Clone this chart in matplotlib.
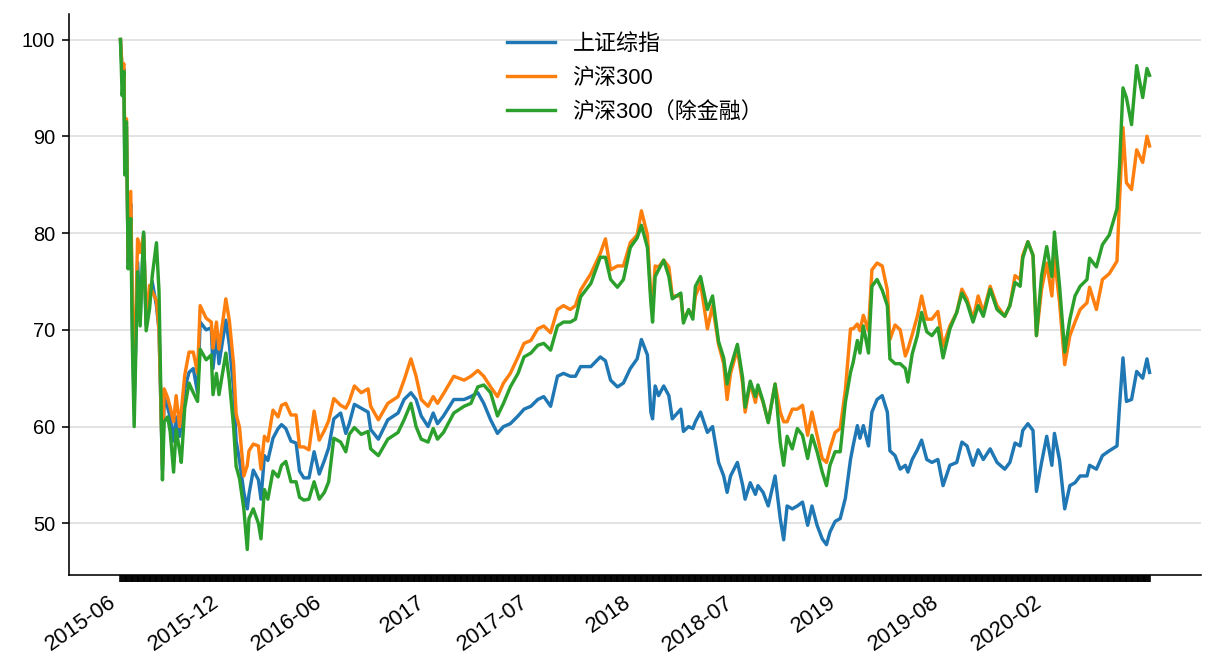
import numpy as np
import matplotlib
matplotlib.use("Agg")
import matplotlib.pyplot as plt

plt.rcParams['font.family'] = ['Liberation Sans', 'Noto Sans CJK SC', 'DejaVu Sans']
plt.rcParams['axes.unicode_minus'] = False

# trading-day position (0 = 2015-06 start) of each value
days = [0, 2, 4, 5, 7, 9, 12, 14, 16, 20, 23, 27, 30, 34, 37, 42, 45, 49, 51, 55,
        58, 62, 65, 69, 71, 75, 80, 85, 90, 93, 100, 106, 108, 112, 115, 123, 127, 132, 135, 139,
        144, 148, 150, 155, 161, 164, 168, 172, 178, 184, 188, 193, 199, 205, 209, 214, 220, 226, 232, 238,
        243, 249, 257, 263, 267, 273, 281, 289, 292, 301, 312, 324, 331, 339, 345, 351, 359, 365, 370, 377,
        389, 401, 409, 417, 424, 432, 440, 447, 455, 464, 471, 479, 487, 494, 502, 510, 517, 525, 531, 537,
        549, 560, 566, 572, 580, 587, 595, 603, 608, 615, 619, 621, 624, 628, 634, 640, 644, 654, 657, 663,
        668, 671, 677, 685, 691, 698, 704, 708, 712, 720, 726, 729, 735, 741, 744, 750, 756, 764, 770, 774,
        778, 784, 790, 796, 802, 807, 813, 819, 824, 828, 834, 840, 846, 852, 855, 860, 863, 867, 873, 877,
        883, 889, 895, 898, 904, 910, 916, 919, 924, 930, 935, 941, 947, 954, 960, 968, 976, 982, 988, 995,
        1001, 1007, 1015, 1023, 1032, 1038, 1044, 1050, 1053, 1059, 1065, 1069, 1075, 1081, 1087, 1090, 1096, 1102, 1108, 1114,
        1120, 1128, 1131, 1139, 1146, 1154, 1163, 1166, 1170, 1174, 1180, 1186, 1193, 1198, 1201]

sh_composite = [100, 96.5, 97, 88, 91, 77, 83, 70, 62, 77, 71, 80, 70.5, 73, 75, 72.5, 70, 55.5, 63, 62,
                61, 58.5, 61, 59, 60.2, 63.9, 65.6, 66, 63.5, 70.8, 70, 70.2, 66, 69.5, 66.5, 71, 68.5, 64, 58.5, 56.5,
                53.2, 51.5, 53, 55.5, 54.5, 52.5, 57, 56.5, 58.8, 59.8, 60.2, 59.8, 58.5, 58.3, 55.4, 54.7, 54.7, 57.4, 55.1, 56.5,
                57.8, 60.8, 61.4, 59.3, 60.3, 62.3, 61.9, 61.5, 59.7, 58.7, 60.7, 61.4, 62.8, 63.5, 62.8, 61.1, 60.0, 61.4, 60.3, 61.1,
                62.8, 62.8, 63.1, 63.5, 62.4, 60.7, 59.3, 60.0, 60.3, 61.1, 61.8, 62.1, 62.8, 63.1, 62.1, 65.2, 65.5, 65.2, 65.2, 66.2,
                66.2, 67.2, 66.8, 64.8, 64.1, 64.5, 66.0, 67.0, 69.0, 67.4, 61.5, 60.8, 64.2, 63.2, 64.2, 63.2, 60.8, 61.8, 59.5, 60.0,
                59.8, 60.5, 61.5, 59.4, 60.0, 56.3, 54.9, 53.2, 54.9, 56.3, 54.0, 52.5, 54.2, 53.0, 53.9, 53.2, 51.8, 54.9, 50.5, 48.3,
                51.8, 51.5, 51.8, 52.2, 49.8, 51.8, 49.8, 48.4, 47.8, 49.1, 50.2, 50.5, 52.6, 56.6, 58.0, 60.1, 58.8, 60.1, 58.0, 61.5,
                62.8, 63.2, 61.5, 57.5, 57.0, 55.6, 56.0, 55.3, 56.6, 57.6, 58.6, 56.6, 56.3, 56.6, 53.9, 56.0, 56.3, 58.4, 58.0, 56.0,
                57.6, 56.6, 57.7, 56.3, 55.6, 56.3, 58.3, 58.0, 59.6, 60.3, 59.6, 53.3, 56.3, 59.0, 56.0, 59.3, 56.5, 51.5, 53.9, 54.2,
                54.9, 54.9, 56.0, 55.6, 57.0, 57.5, 58.0, 62.2, 67.1, 62.6, 62.8, 65.7, 65.0, 67.0, 65.6]

hs300 = [100, 97, 97.5, 89, 91.8, 77, 84.3, 72, 64, 79.4, 78, 79.8, 71, 74.6, 74, 73, 70, 56, 63.9, 63,
         62, 60.5, 63.2, 60, 61.6, 65.3, 67.7, 67.7, 65.5, 72.5, 71.2, 70.8, 68.1, 70.8, 68, 73.2, 71, 66.5, 61.3, 59.9,
         54.9, 56, 57.5, 58.2, 58, 55.6, 59, 58.5, 61.7, 61, 62.2, 62.4, 61.2, 61.2, 57.9, 57.9, 57.6, 61.6, 58.6, 59.6,
         60.6, 62.9, 62.2, 61.9, 62.6, 64.2, 63.5, 63.9, 62.1, 60.7, 62.4, 63.1, 64.8, 67.0, 65.2, 62.8, 62.1, 63.1, 62.4, 63.4,
         65.2, 64.8, 65.2, 65.8, 65.2, 64.1, 63.1, 64.5, 65.5, 67.2, 68.6, 68.9, 70.1, 70.4, 69.7, 72.1, 72.5, 72.1, 72.5, 74.1,
         75.8, 77.9, 79.4, 76.2, 76.6, 76.6, 79.0, 79.8, 82.3, 79.8, 73.4, 72.5, 76.6, 76.5, 77.2, 76.5, 73.5, 73.5, 71.0, 72.0,
         71.5, 73.5, 74.8, 70.1, 72.5, 68.5, 66.5, 62.8, 65.5, 68.0, 64.5, 61.5, 64.5, 62.5, 64.0, 62.5, 60.5, 64.4, 61.5, 60.5,
         60.5, 61.8, 61.8, 62.2, 59.1, 61.5, 59.1, 56.7, 56.3, 57.7, 59.4, 59.8, 63.8, 70.1, 70.1, 70.6, 69.9, 71.5, 69.9, 76.2,
         76.9, 76.6, 74.1, 69.0, 70.5, 70.0, 67.3, 68.0, 69.5, 71.4, 73.5, 71.1, 71.1, 71.9, 68.3, 70.4, 71.8, 74.2, 73.2, 71.1,
         73.5, 71.8, 74.5, 72.5, 71.4, 72.5, 75.6, 75.2, 77.7, 79.1, 77.7, 69.4, 74.2, 76.9, 73.5, 77.5, 72.8, 66.4, 69.4, 70.8,
         72.1, 72.8, 74.4, 72.1, 75.2, 75.8, 77.1, 83.5, 90.9, 85.2, 84.5, 88.6, 87.3, 90.0, 89.0]

hs300_ex_fin = [100, 94.2, 96.7, 86, 91.5, 76.3, 81.5, 68, 60, 76, 70.4, 80.1, 69.9, 72.2, 75.5, 79, 74, 54.5, 60.5, 61,
                59.5, 55.3, 59.7, 57.5, 56.3, 61.9, 64.5, 63.5, 62.6, 68, 66.9, 67.4, 63.3, 65.5, 63.3, 67.6, 64.8, 60, 55.9, 54.6,
                51.5, 47.3, 50.5, 51.5, 50, 48.4, 53.5, 52.5, 55.4, 54.8, 56, 56.4, 54.3, 54.3, 52.7, 52.4, 52.5, 54.3, 52.5, 53.2,
                54.3, 58.8, 58.4, 57.4, 59.2, 59.9, 59.2, 59.5, 57.7, 57.0, 58.7, 59.4, 60.7, 62.4, 60.0, 58.7, 58.4, 59.8, 58.7, 59.4,
                61.4, 62.1, 62.4, 64.1, 64.3, 63.5, 61.1, 62.4, 64.1, 65.5, 67.2, 67.6, 68.4, 68.6, 67.9, 70.4, 70.8, 70.8, 71.1, 73.4,
                74.8, 77.5, 77.5, 75.2, 74.4, 75.2, 78.5, 79.5, 80.8, 78.5, 72.8, 70.8, 75.5, 76.2, 77.2, 75.5, 73.2, 73.8, 70.7, 72.1,
                71.1, 74.5, 75.5, 72.1, 73.5, 68.8, 67.1, 64.4, 66.1, 68.5, 65.1, 62.0, 64.7, 63.1, 64.3, 62.6, 60.4, 64.4, 58.4, 56.0,
                59.0, 57.7, 59.8, 59.1, 56.7, 59.1, 57.4, 55.3, 53.9, 56.0, 57.4, 57.4, 62.5, 65.6, 66.6, 68.9, 67.6, 70.4, 67.6, 74.5,
                75.2, 74.1, 72.5, 67.0, 66.5, 66.5, 66.0, 64.6, 67.5, 69.4, 71.8, 69.8, 69.4, 70.2, 67.1, 70.1, 71.8, 73.8, 72.8, 70.8,
                72.5, 71.4, 74.2, 72.1, 71.4, 72.5, 74.9, 74.5, 77.4, 79.1, 77.7, 69.4, 75.6, 78.6, 75.5, 80.1, 74.5, 67.7, 71.1, 73.5,
                74.5, 75.2, 77.4, 76.5, 78.8, 79.8, 82.5, 87.0, 95.0, 94.0, 91.2, 97.3, 94.0, 97.0, 96.3]

n_days = 1202
label_pos = [0, 120, 240, 360, 480, 600, 720, 840, 960, 1080]
label_txt = ['2015-06', '2015-12', '2016-06', '2017', '2017-07',
             '2018', '2018-07', '2019', '2019-08', '2020-02']

fig, ax = plt.subplots(figsize=(1216 / 144, 672 / 144), dpi=144)
fig.subplots_adjust(left=69 / 1216, right=1201 / 1216, bottom=1 - 575 / 672, top=1 - 14 / 672)

ax.plot(days, sh_composite, label='上证综指', linewidth=1.7)
ax.plot(days, hs300, label='沪深300', linewidth=1.7)
ax.plot(days, hs300_ex_fin, label='沪深300（除金融）', linewidth=1.7)

# every trading day gets a tick, only a few are labelled
tick_labels = [''] * n_days
for p, t in zip(label_pos, label_txt):
    tick_labels[p] = t
ax.set_xticks(np.arange(n_days))
ax.set_xticklabels(tick_labels, rotation=35, ha='right', fontsize=11)
ax.tick_params(axis='x', pad=5)
ax.tick_params(axis='y', labelsize=10)

ax.grid(axis='y', color='#e3e3e3', linewidth=1.0)
ax.set_axisbelow(True)
ax.spines['top'].set_visible(False)
ax.spines['right'].set_visible(False)

ax.legend(loc='upper center', frameon=False, fontsize=11,
          handlelength=2.2, labelspacing=0.6)

fig.savefig('out.png', dpi=144)
